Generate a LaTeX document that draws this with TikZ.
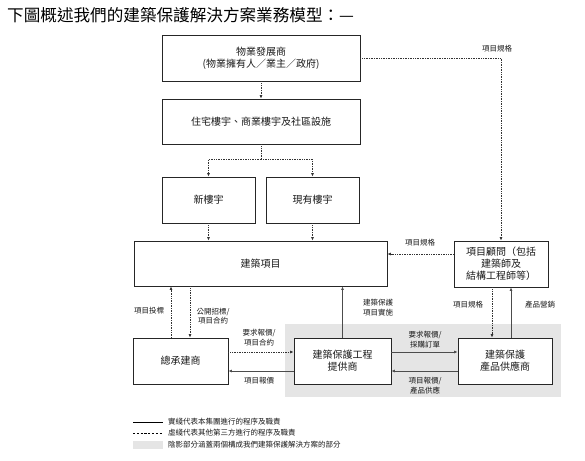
\documentclass[tikz,border=0pt]{standalone}
\usepackage{fontspec}
\setmainfont{Noto Sans CJK TC}
\usetikzlibrary{arrows.meta}
\begin{document}
\begin{tikzpicture}[x=1pt,y=-1pt,
  box/.style={draw=black!85,line width=0.8pt,fill=white,align=center,inner sep=1pt,text=black!90,font=\fontsize{10}{12}\selectfont},
  lbl/.style={align=center,inner sep=0pt,text=black!90,font=\fontsize{7.5}{9.5}\selectfont},
  legtxt/.style={anchor=west,inner sep=0pt,text=black!90,font=\fontsize{7.5}{9}\selectfont},
  dotline/.style={densely dotted,line width=0.7pt,black!80},
  solidline/.style={line width=0.8pt,black!70},
  tip/.style={-{Latex[length=3.5pt,width=3pt]}}
]
\useasboundingbox (0,0) rectangle (585,460);
% title
\node[anchor=west,inner sep=0pt,font=\fontsize{16.6}{18}\selectfont] (title) at (7,15) {下圖概述我們的建築保護解決方案業務模型：—};
% shaded region
\fill[black!10] (285,324) rectangle (561,397);
% boxes
\node[box,minimum width=198pt,minimum height=46pt] (b1) at (261,58) {物業發展商\\(物業擁有人／業主／政府)};
\node[box,minimum width=198pt,minimum height=45pt] (b2) at (261,121.5) {住宅樓宇、商業樓宇及社區設施};
\node[box,minimum width=93pt,minimum height=46pt] (b3) at (208.5,200) {新樓宇};
\node[box,minimum width=93pt,minimum height=46pt] (b4) at (312.5,200) {現有樓宇};
\node[box,minimum width=253pt,minimum height=45pt] (b5) at (260.5,263.5) {建築項目};
\node[box,minimum width=94pt,minimum height=46pt] (b6) at (501,264) {項目顧問（包括\\建築師及\\結構工程師等）};
\node[box,minimum width=95pt,minimum height=46pt] (b7) at (180.5,361) {總承建商};
\node[box,minimum width=97pt,minimum height=46pt] (b8) at (342.5,361) {建築保護工程\\提供商};
\node[box,minimum width=94pt,minimum height=46pt] (b9) at (505,361) {建築保護\\產品供應商};
% connectors (top part)
\draw[dotline,tip] (b1.east) -| (b6.north);
\draw[dotline,tip] (b1.south) -- (b2.north);
\draw[dotline,tip] (b2.south) -- ++(0,15) -| (b3.north);
\draw[dotline,tip] (b2.south) -- ++(0,15) -| (b4.north);
\draw[dotline,tip] (b3.south) -- (b3.south |- b5.north);
\draw[dotline,tip] (b4.south) -- (b4.south |- b5.north);
\draw[dotline,tip] (b6.west |- 0,254) -- (b5.east |- 0,254);
% connectors (lower part)
\draw[dotline,tip] (171,0 |- b7.north) -- (171,0 |- b5.south);
\draw[dotline,tip] (190,0 |- b5.south) -- (190,0 |- b7.north);
\draw[solidline,tip] (b8.north) -- (b8.north |- b5.south);
\draw[dotline,tip] (492,0 |- b6.south) -- (492,0 |- b9.north);
\draw[solidline,tip] (511,0 |- b9.north) -- (511,0 |- b6.south);
\draw[dotline,tip] (b7.east |- 0,352) -- (b8.west |- 0,352);
\draw[solidline,tip] (b8.west |- 0,371) -- (b7.east |- 0,371);
\draw[solidline,tip] (b8.east |- 0,352) -- (b9.west |- 0,352);
\draw[solidline,tip] (b9.west |- 0,371) -- (b8.east |- 0,371);
% labels
\node[lbl] (t1) at (497,49) {項目規格};
\node[lbl] (t2) at (420,243) {項目規格};
\node[lbl] (t3) at (149,311) {項目投標};
\node[lbl] (t4) at (213,316) {公開招標/\\項目合約};
\node[lbl] (t5) at (378,307.5) {建築保護\\項目實施};
\node[lbl] (t6) at (468,305) {項目規格};
\node[lbl] (t7) at (540,305) {產品營銷};
\node[lbl] (t8) at (259,337.5) {要求報價/\\項目合約};
\node[lbl] (t9) at (259,381) {項目報價};
\node[lbl] (t10) at (425,339.5) {要求報價/\\採購訂單};
\node[lbl] (t11) at (425,385.5) {項目報價/\\產品供應};
% legend
\coordinate (la1) at (133,422); \coordinate (la2) at (163,422);
\coordinate (lb1) at (133,433); \coordinate (lb2) at (163,433);
\draw[line width=0.8pt,black] (la1) -- (la2);
\draw[line width=0.8pt,black,dash pattern=on 2.2pt off 1.6pt] (lb1) -- (lb2);
\fill[black!10] (133,441) rectangle (163,449);
\node[legtxt] (lg1) at (168,422) {實綫代表本集團進行的程序及職責};
\node[legtxt] (lg2) at (168,433) {虛綫代表其他第三方進行的程序及職責};
\node[legtxt] (lg3) at (168,445) {陰影部分涵蓋兩個構成我們建築保護解決方案的部分};
\end{tikzpicture}
\end{document}
